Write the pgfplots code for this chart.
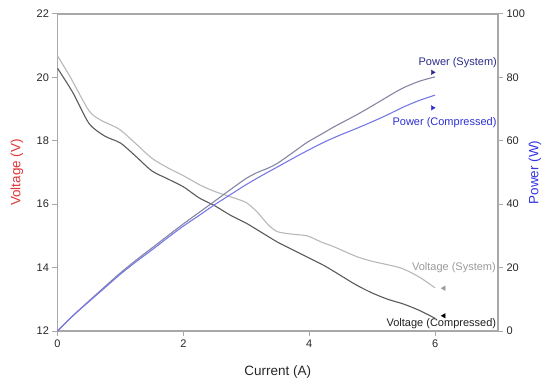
\documentclass[border=0pt]{standalone}
\usepackage{pgfplots}
\usepackage{pgfplotstable}
\pgfplotsset{compat=1.18}
\usepackage{fontspec}
\setmainfont{Liberation Sans}
\definecolor{vsys}{HTML}{B8B8B8}
\definecolor{vcomp}{HTML}{5A5A5A}
\definecolor{psys}{HTML}{8585A5}
\definecolor{pcomp}{HTML}{7878E6}
\definecolor{psyslab}{HTML}{2A2A8A}
\definecolor{pcomplab}{HTML}{2E2ED2}
\definecolor{vsyslab}{HTML}{9A9A9A}
\definecolor{vcomplab}{HTML}{202020}
\definecolor{axgray}{HTML}{A8A8A8}
\definecolor{vlab}{HTML}{E03535}
\definecolor{plab}{HTML}{3535E0}

% Voltage (System)
\pgfplotstableread{
I V
0 20.68
0.2 20.02
0.5 18.95
0.68 18.66
0.85 18.5
1.0 18.34
1.25 17.9
1.5 17.45
1.75 17.15
2.0 16.9
2.27 16.6
2.5 16.4
2.8 16.2
3.0 16.05
3.17 15.76
3.35 15.35
3.5 15.13
3.75 15.05
3.97 15.0
4.2 14.8
4.39 14.66
4.75 14.35
5.0 14.2
5.45 13.99
5.75 13.7
6.0 13.36
}\vsystab

% Voltage (Compressed)
\pgfplotstableread{
I V
0 20.29
0.25 19.5
0.5 18.55
0.75 18.15
1.0 17.93
1.25 17.5
1.5 17.05
1.75 16.8
2.0 16.55
2.25 16.2
2.5 15.95
2.75 15.65
3.0 15.4
3.25 15.1
3.5 14.8
3.75 14.55
4.0 14.3
4.25 14.05
4.5 13.75
4.75 13.45
5.0 13.2
5.25 13.0
5.5 12.85
5.75 12.65
6.0 12.4
}\vcomptab

% Power (System)
\pgfplotstableread{
I P
0 0
0.2 4.0
0.5 9.48
0.68 12.69
0.85 15.73
1.0 18.34
1.25 22.38
1.5 26.18
1.75 30.01
2.0 33.8
2.27 37.68
2.5 41.0
2.8 45.36
3.0 48.15
3.17 49.96
3.35 51.42
3.5 52.96
3.75 56.44
3.97 59.55
4.2 62.16
4.39 64.36
4.75 68.16
5.0 71.0
5.45 76.25
5.75 78.78
6.0 80.16
}\psystab

% Power (Compressed)
\pgfplotstableread{
I P
0 0
0.25 4.88
0.5 9.28
0.75 13.61
1.0 17.93
1.25 21.88
1.5 25.58
1.75 29.4
2.0 33.1
2.25 36.45
2.5 39.88
2.75 43.04
3.0 46.2
3.25 49.08
3.5 51.8
3.75 54.56
4.0 57.2
4.25 59.71
4.5 61.88
4.75 63.89
5.0 66.0
5.25 68.25
5.5 70.68
5.75 72.74
6.0 74.4
}\pcomptab

\begin{document}
\begin{tikzpicture}
\useasboundingbox (-57.5pt,-58pt) rectangle (493.5pt,331pt);
\pgfplotsset{
  common/.style={
    at={(0,0)}, anchor=south west,
    width=440.5pt, height=317pt, scale only axis,
    xmin=0, xmax=7,
    axis line style={axgray, line width=1.2pt},
    tick style={axgray, line width=1pt, major tick length=5pt},
    tick align=outside,
    ticklabel style={font=\fontsize{11}{13}\selectfont, color=black!85},
    /pgf/number format/assume math mode=true,
    label style={font=\fontsize{13.5}{16}\selectfont},
  }
}
\begin{axis}[common,
  ymin=12, ymax=22,
  xtick={0,2,4,6}, ytick={12,14,...,22},
  xtick pos=bottom, ytick pos=left,
  xlabel={Current (A)}, ylabel={Voltage (V)},
  xlabel style={at={(axis description cs:0.5,-0.129)}, anchor=center, color=black!85},
  ylabel style={at={(axis description cs:-0.092,0.5)}, anchor=center, color=vlab},
]
\addplot[vsys, line width=1.1pt, smooth, tension=0.45] table[x=I,y=V] {\vsystab};
\addplot[vcomp, line width=1.1pt, smooth, tension=0.45] table[x=I,y=V] {\vcomptab};
\addplot[only marks, mark=triangle*, mark size=2.6pt, vsyslab, mark options={rotate=90}] coordinates {(6.14,13.35)};
\addplot[only marks, mark=triangle*, mark size=2.6pt, black, mark options={rotate=90}] coordinates {(6.14,12.48)};
\node[font=\fontsize{11}{13}\selectfont, vsyslab] at (axis cs:6.30,13.99) {Voltage (System)};
\node[font=\fontsize{11}{13}\selectfont, vcomplab] at (axis cs:6.10,12.22) {Voltage (Compressed)};
\end{axis}
\begin{axis}[common,
  ymin=0, ymax=100,
  axis x line=none, axis y line*=right,
  ytick={0,20,...,100}, ytick pos=right,
  ylabel={Power (W)},
  ylabel style={at={(axis description cs:1.084,0.5)}, anchor=center, color=plab},
]
\addplot[psys, line width=1.1pt, smooth, tension=0.45] table[x=I,y=P] {\psystab};
\addplot[pcomp, line width=1.1pt, smooth, tension=0.45] table[x=I,y=P] {\pcomptab};
\addplot[only marks, mark=triangle*, mark size=2.6pt, psyslab, mark options={rotate=-90}] coordinates {(5.96,81.6)};
\addplot[only marks, mark=triangle*, mark size=2.6pt, pcomplab, mark options={rotate=-90}] coordinates {(5.96,70.4)};
\node[font=\fontsize{11}{13}\selectfont, psyslab] at (axis cs:6.36,84.6) {Power (System)};
\node[font=\fontsize{11}{13}\selectfont, pcomplab] at (axis cs:6.15,65.7) {Power (Compressed)};
\end{axis}
\end{tikzpicture}
\end{document}
